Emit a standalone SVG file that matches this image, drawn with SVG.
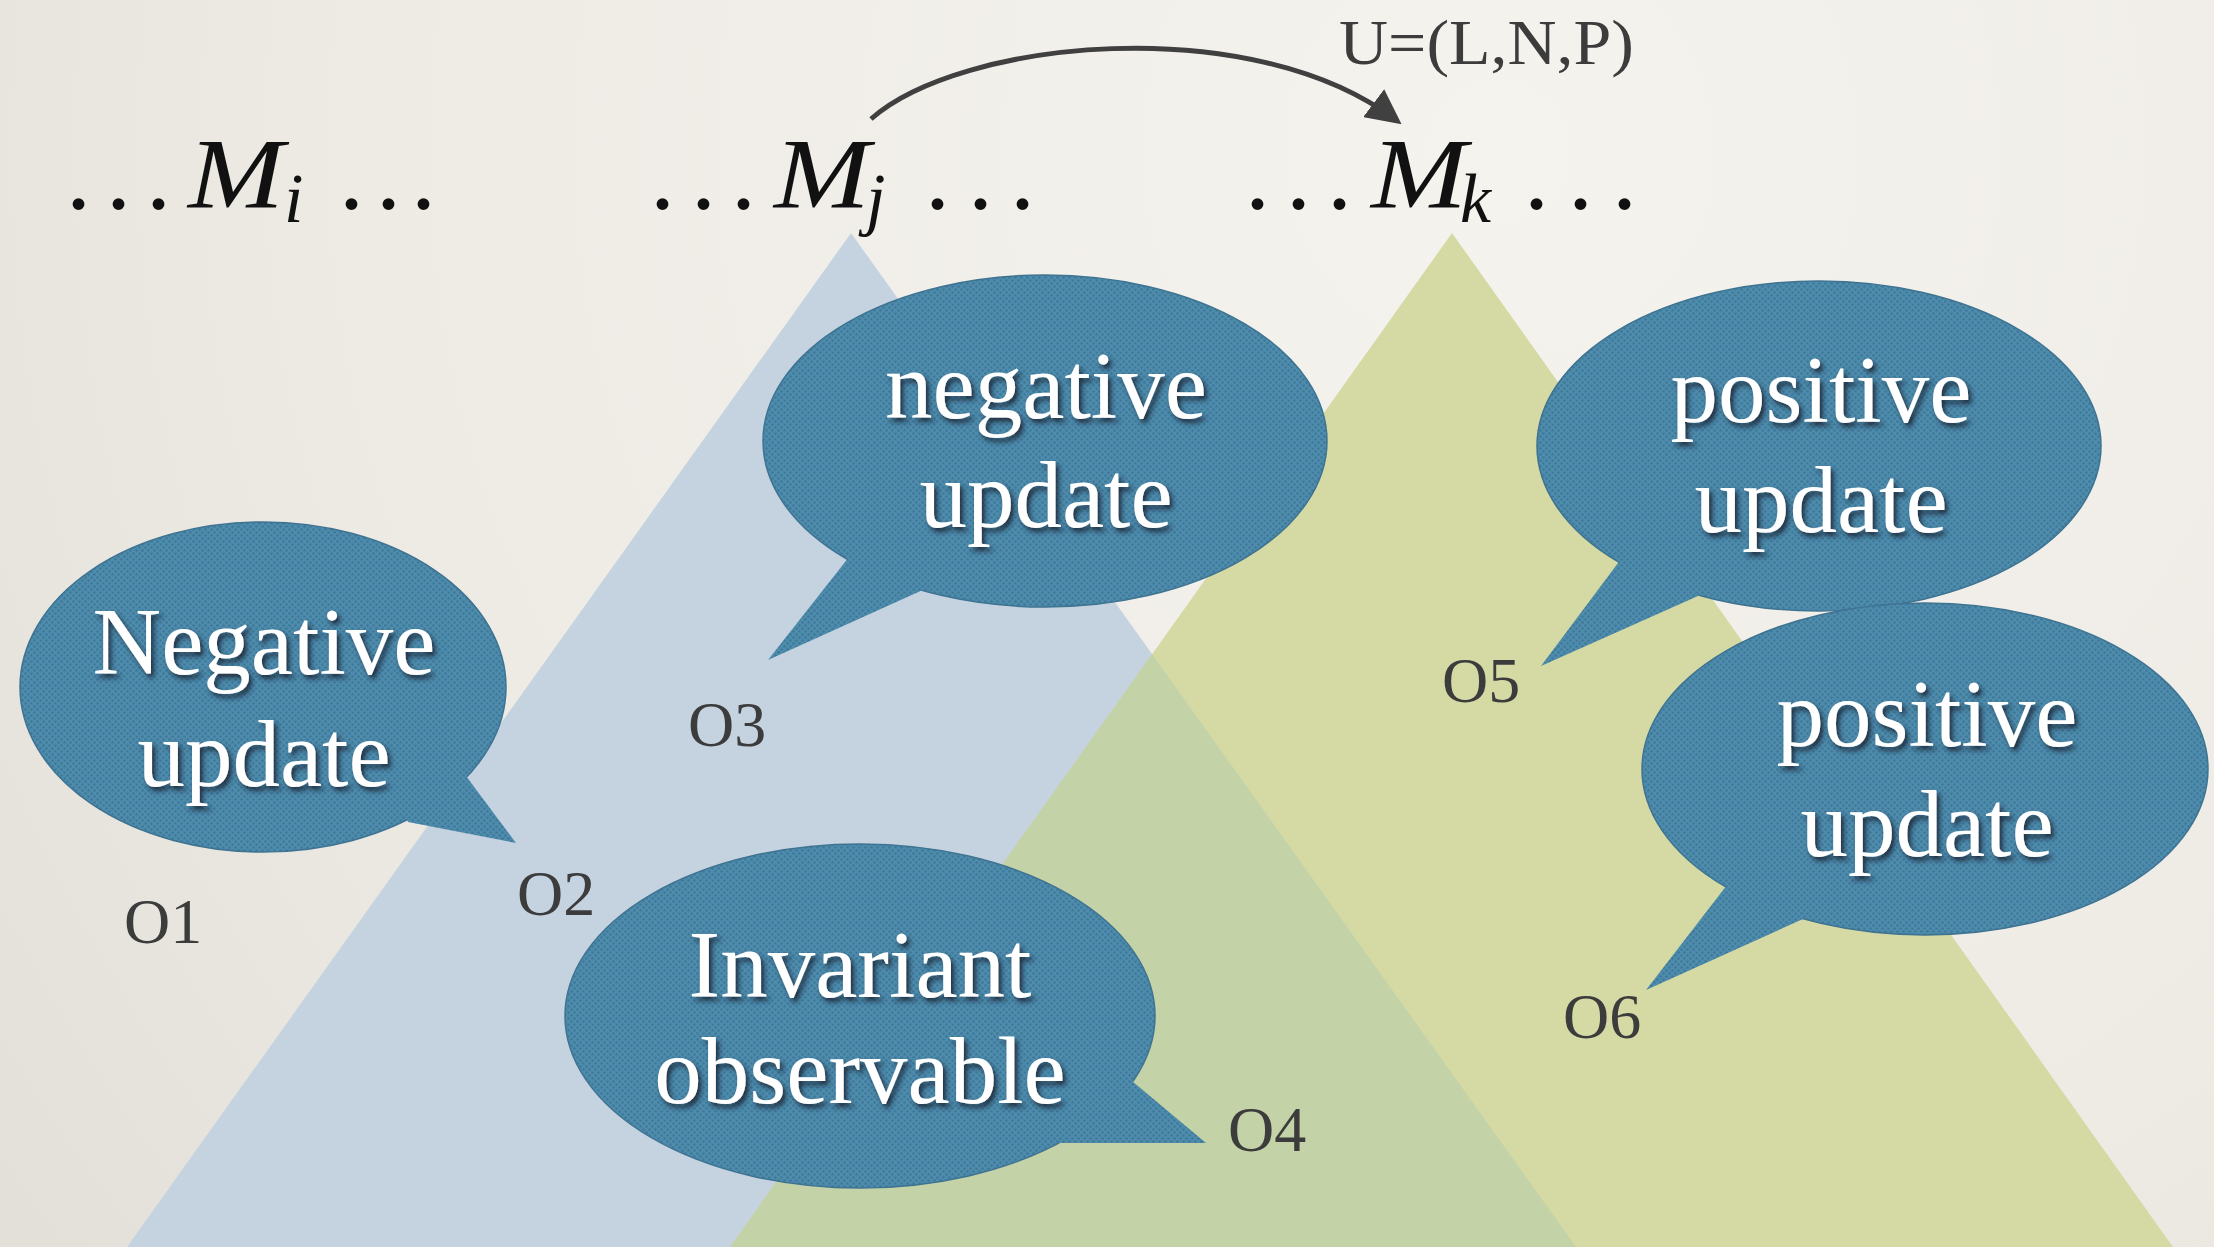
<svg xmlns="http://www.w3.org/2000/svg" width="2214" height="1247" viewBox="0 0 2214 1247">
<defs>
<radialGradient id="paper" cx="1500" cy="150" r="1900" gradientUnits="userSpaceOnUse">
<stop offset="0" stop-color="#f5f3ee"/>
<stop offset="0.6" stop-color="#eeebe5"/>
<stop offset="1" stop-color="#e2dfd9"/>
</radialGradient>
<pattern id="weave" width="6" height="6" patternUnits="userSpaceOnUse">
<rect width="6" height="6" fill="#4d8cad"/>
<circle cx="1.5" cy="1.5" r="1.3" fill="#3a6f8f" opacity="0.75"/>
<circle cx="4.5" cy="4.5" r="1.3" fill="#3a6f8f" opacity="0.75"/>
</pattern>
<filter id="tshadow" x="-10%" y="-20%" width="130%" height="150%">
<feDropShadow dx="3" dy="4" stdDeviation="2.5" flood-color="#14242f" flood-opacity="0.85"/>
</filter>
<marker id="arrow" viewBox="0 0 10 10" refX="8" refY="5" markerWidth="7" markerHeight="7" markerUnits="strokeWidth" orient="auto">
<path d="M0,0 L10,5 L0,10 Z" fill="#404040"/>
</marker>
<style>
.bub{fill:url(#weave);stroke:#3e7391;stroke-width:1.5}
.btxt{font-family:"Liberation Serif","Times New Roman",serif;font-size:95px;fill:#ffffff;text-anchor:middle;filter:url(#tshadow)}
.olab{font-family:"Liberation Serif","Times New Roman",serif;font-size:64px;fill:#3c3c3c}
.math{font-family:"Liberation Serif","Times New Roman",serif;font-size:100px;fill:#111111}
.mit{font-style:italic}
.sub{font-family:"Liberation Serif","Times New Roman",serif;font-size:70px;font-style:italic;fill:#111111}
</style>
</defs>

<rect width="2214" height="1247" fill="url(#paper)"/>

<g id="mountains">
<polygon points="851,233 127,1247 1576,1247" fill="#c5d3e1"/>
<polygon points="1452,233 730,1247 2173,1247" fill="#d5daa5"/>
<polygon points="1152,654 1576,1247 730,1247" fill="#c4d2a7"/>
</g>

<g id="models">
<text class="math" x="66 106 146" y="209">...</text>
<text class="math mit" x="188" y="207" textLength="96" lengthAdjust="spacingAndGlyphs">M</text>
<text class="sub" x="284" y="222">i</text>
<text class="math" x="339 376 411" y="209">...</text>

<text class="math" x="650 691 731" y="209">...</text>
<text class="math mit" x="774" y="207" textLength="96" lengthAdjust="spacingAndGlyphs">M</text>
<text class="sub" x="866" y="222">j</text>
<text class="math" x="925 968 1010" y="209">...</text>

<text class="math" x="1245 1286 1327" y="209">...</text>
<text class="math mit" x="1371" y="207" textLength="96" lengthAdjust="spacingAndGlyphs">M</text>
<text class="sub" x="1460" y="222">k</text>
<text class="math" x="1524 1568 1612" y="209">...</text>
</g>

<g id="connectors">
<path d="M871,119 C960,40 1250,10 1396,120" fill="none" stroke="#404040" stroke-width="5" marker-end="url(#arrow)"/>
<text x="1339" y="64" textLength="295" lengthAdjust="spacingAndGlyphs" style="font-family:'Liberation Serif','Times New Roman',serif;font-size:64px;fill:#3c3c3c">U=(L,N,P)</text>
</g>

<g id="bubble-o2">
<ellipse class="bub" cx="263" cy="687" rx="243" ry="165"/>
<polygon class="bub" points="380,740 466,776 516,843 408,822" style="stroke:none"/>
<text class="btxt" x="264" y="674">Negative</text>
<text class="btxt" x="264" y="786">update</text>
</g>

<g id="bubble-o3">
<ellipse class="bub" cx="1045" cy="441" rx="282" ry="166"/>
<polygon class="bub" points="900,520 849,557 768,660 925,589" style="stroke:none"/>
<text class="btxt" x="1046" y="418">negative</text>
<text class="btxt" x="1046" y="527">update</text>
</g>

<g id="bubble-o5">
<ellipse class="bub" cx="1819" cy="446" rx="282" ry="165"/>
<polygon class="bub" points="1680,520 1618,563 1541,666 1698,596" style="stroke:none"/>
<text class="btxt" x="1821" y="422">positive</text>
<text class="btxt" x="1821" y="532">update</text>
</g>

<g id="bubble-o6">
<ellipse class="bub" cx="1925" cy="769" rx="283" ry="166"/>
<polygon class="bub" points="1790,840 1727,885 1646,990 1803,919" style="stroke:none"/>
<text class="btxt" x="1927" y="746">positive</text>
<text class="btxt" x="1927" y="856">update</text>
</g>

<g id="bubble-o4">
<ellipse class="bub" cx="860" cy="1016" rx="295" ry="172"/>
<polygon class="bub" points="1060,1060 1132,1081 1206,1143 1058,1143" style="stroke:none"/>
<text class="btxt" x="860" y="997">Invariant</text>
<text class="btxt" x="860" y="1103">observable</text>
</g>

<g id="labels">
<text class="olab" x="124" y="943">O1</text>
<text class="olab" x="517" y="915">O2</text>
<text class="olab" x="688" y="746">O3</text>
<text class="olab" x="1228" y="1151">O4</text>
<text class="olab" x="1442" y="702">O5</text>
<text class="olab" x="1563" y="1038">O6</text>
</g>
</svg>
